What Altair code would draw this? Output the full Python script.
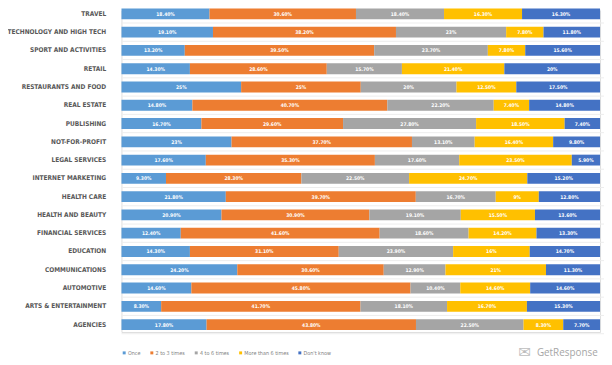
import altair as alt
import pandas as pd

categories = [
    "TRAVEL", "TECHNOLOGY AND HIGH TECH", "SPORT AND ACTIVITIES", "RETAIL",
    "RESTAURANTS AND FOOD", "REAL ESTATE", "PUBLISHING", "NOT-FOR-PROFIT",
    "LEGAL SERVICES", "INTERNET MARKETING", "HEALTH CARE", "HEALTH AND BEAUTY",
    "FINANCIAL SERVICES", "EDUCATION", "COMMUNICATIONS", "AUTOMOTIVE",
    "ARTS & ENTERTAINMENT", "AGENCIES",
]
series = ["Once", "2 to 3 times", "4 to 6 times", "More than 6 times", "Don't know"]
colors = ["#5B9BD5", "#ED7D31", "#A5A5A5", "#FFC000", "#4472C4"]

once = [18.4, 19.1, 13.2, 14.3, 25, 14.8, 16.7, 23, 17.6, 9.3, 21.8, 20.9, 12.4, 14.3, 24.2, 14.6, 8.3, 17.8]
two_three = [30.6, 38.2, 39.5, 28.6, 25, 40.7, 29.6, 37.7, 35.3, 28.3, 39.7, 30.9, 41.6, 31.1, 30.6, 45.8, 41.7, 43.8]
four_six = [18.4, 23, 23.7, 15.7, 20, 22.2, 27.8, 13.1, 17.6, 22.5, 16.7, 19.1, 18.6, 23.9, 12.9, 10.4, 18.1, 22.5]
more_six = [16.3, 7.8, 7.8, 21.4, 12.5, 7.4, 18.5, 16.4, 23.5, 24.7, 9, 15.5, 14.2, 16, 21, 14.6, 16.7, 8.3]
dont_know = [16.3, 11.8, 15.6, 20, 17.5, 14.8, 7.4, 9.8, 5.9, 15.2, 12.8, 13.6, 13.3, 14.7, 11.3, 14.6, 15.3, 7.7]

values = [once, two_three, four_six, more_six, dont_know]


def fmt(v):
    return f"{int(v)}%" if float(v).is_integer() else f"{v:.2f}%"


rows = []
for si, (s, vals) in enumerate(zip(series, values)):
    for c, v in zip(categories, vals):
        rows.append({"category": c, "series": s, "order": si, "value": v, "label": fmt(v)})
df = pd.DataFrame(rows)

FONT = "DejaVu Sans Condensed, Liberation Sans, sans-serif"
YSCALE = alt.Scale(paddingInner=0.4, paddingOuter=0, range=[-2, 324])

yenc = alt.Y(
    "category:N",
    sort=categories,
    scale=YSCALE,
    axis=alt.Axis(
        title=None, ticks=False, domain=False, labelPadding=16,
        labelFont=FONT, labelFontSize=6.6, labelFontWeight="bold",
        labelColor="#595959", grid=False, labelLimit=200,
    ),
)

base = alt.Chart(df).transform_joinaggregate(
    total="sum(value)", groupby=["category"]
).transform_stack(
    stack="value", as_=["v0", "v1"], groupby=["category"],
    sort=[alt.SortField("order", order="ascending")],
).transform_calculate(
    x0="datum.v0 / datum.total",
    x1="datum.v1 / datum.total",
    xm="(datum.v0 + datum.v1) / 2 / datum.total",
)

grid = alt.Chart(pd.DataFrame({"category": categories})).mark_rule(
    color="#EDEDED", strokeWidth=1, yOffset=9.26
).encode(
    y=alt.Y("category:N", sort=categories, scale=YSCALE),
    x=alt.value(0),
    x2=alt.value(489),
)

bars = base.mark_bar(size=11).encode(
    y=yenc,
    x=alt.X("x0:Q", axis=None, scale=alt.Scale(domain=[0, 1], nice=False)),
    x2="x1:Q",
    color=alt.Color(
        "series:N",
        sort=series,
        scale=alt.Scale(domain=series, range=colors),
        legend=alt.Legend(
            title=None, orient="none", legendX=0, legendY=344,
            direction="horizontal", symbolType="square", symbolSize=9,
            symbolStrokeWidth=0, labelFont=FONT, labelFontSize=5.5,
            labelColor="#7F7F7F", columnPadding=8, labelOffset=1,
        ),
    ),
    order=alt.Order("order:Q"),
)

texts = base.mark_text(
    color="white", font=FONT, fontSize=5, fontWeight="bold", baseline="middle"
).encode(
    y=alt.Y("category:N", sort=categories),
    x=alt.X("xm:Q"),
    text="label:N",
)

logo_df = pd.DataFrame({"t": ["GetResponse"]})
logo = alt.Chart(logo_df).mark_text(
    font="Open Sans", fontSize=10, color="#A6A6A6", align="left", baseline="middle"
).encode(x=alt.value(421), y=alt.value(347), text="t:N")
icon = alt.Chart(pd.DataFrame({"t": ["✉"]})).mark_text(
    font="DejaVu Sans", fontSize=15, color="#BDBDBD", align="left", baseline="middle"
).encode(x=alt.value(402), y=alt.value(346), text="t:N")

chart = alt.layer(grid, bars, texts, logo, icon).properties(
    width=485, height=326,
    autosize=alt.AutoSizeParams(type="none"),
    padding={"left": 115, "top": 0, "right": 4, "bottom": 30},
).configure_view(stroke=None).configure(background="white")

chart.save("out.html", embed_options={"renderer": "svg", "actions": False})
